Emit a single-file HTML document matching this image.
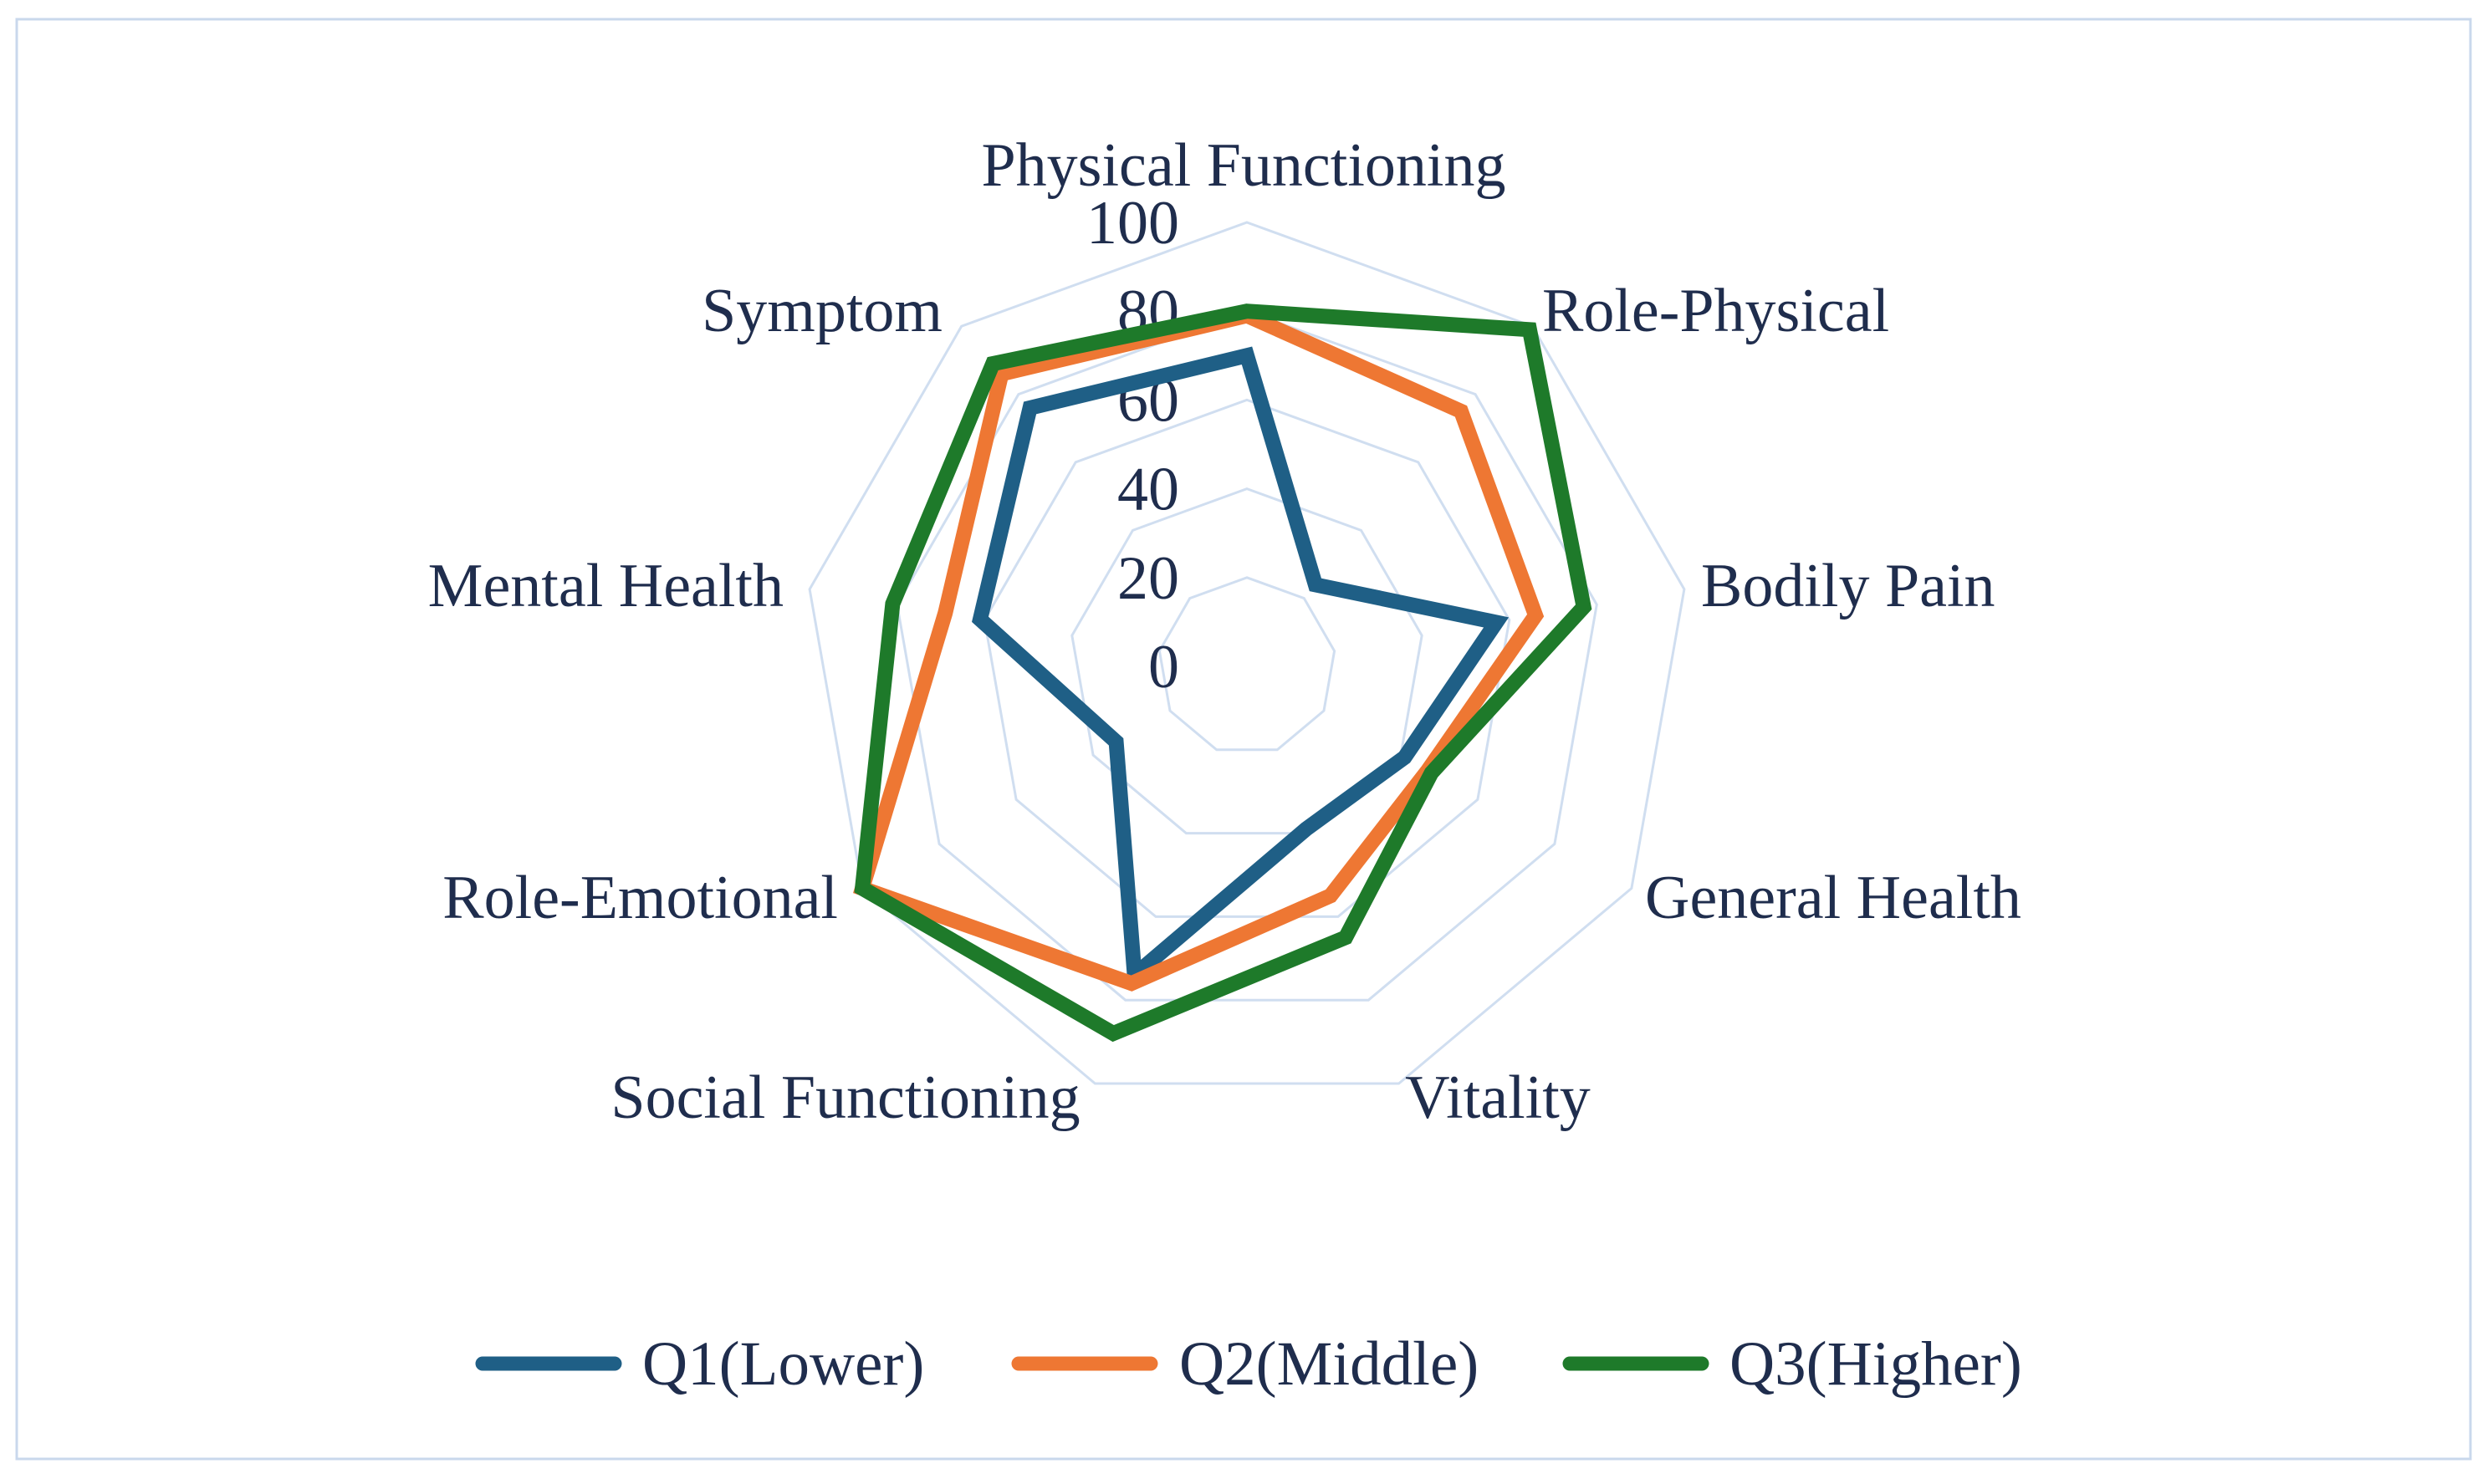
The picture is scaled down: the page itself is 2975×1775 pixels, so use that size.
<!DOCTYPE html>
<html><head><meta charset="utf-8">
<style>
html,body{margin:0;padding:0;background:#fff;}
svg{display:block;}
text{font-family:"Liberation Serif",serif;fill:#1f2d4d;}
</style></head>
<body>
<svg id="chart" width="2975" height="1775" viewBox="0 0 2975 1775" xmlns="http://www.w3.org/2000/svg">
<rect x="20" y="23" width="2934" height="1722" fill="#fff" stroke="#c9d8ec" stroke-width="3"/>
<g id="grid"></g>
<g id="ticks"></g>
<g id="labels"></g>
<g id="series"></g>
<g id="legend"></g>
</svg>
<script>
const categories = ["Physical Functioning","Role-Physical","Bodily Pain","General Health","Vitality","Social Functioning","Role-Emotional","Mental Health","Symptom"];
const q1Values = [70, 24, 57, 41, 39, 74, 34, 61, 76];
const q2Values = [79, 75, 66, 47, 55, 76, 100, 69, 86];
const q3Values = [80, 99, 77, 48, 65, 88, 100, 81, 89];
const tickValues = [0, 20, 40, 60, 80, 100];
const seriesNames = ["Q1(Lower)", "Q2(Middle)", "Q3(Higher)"];
const seriesColors = ["#1f5f86", "#ee7733", "#1e7a2a"];

const NS = "http://www.w3.org/2000/svg";
const cx = 1491, cy = 797, R = 531, maxV = 100;
function ang(i){ return i * 2 * Math.PI / categories.length; }
function px(i, v){ return cx + Math.sin(ang(i)) * R * v / maxV; }
function py(i, v){ return cy - Math.cos(ang(i)) * R * v / maxV; }
function mk(tag, attrs, parent){ const e = document.createElementNS(NS, tag); for (const k in attrs) e.setAttribute(k, attrs[k]); parent.appendChild(e); return e; }

const grid = document.getElementById('grid');
tickValues.forEach(t => {
  if (t === 0) return;
  const pts = categories.map((c, i) => px(i, t).toFixed(1) + ',' + py(i, t).toFixed(1)).join(' ');
  const p = mk('polygon', {points: pts, fill: 'none', stroke: '#d0def0', 'stroke-width': 3}, grid);
  
  
});

const ticks = document.getElementById('ticks');
tickValues.forEach(t => {
  const e = mk('text', {x: 1410, y: py(0, t) + 25, 'text-anchor': 'end', 'font-size': 74}, ticks);
  e.textContent = t;
  
  
});

const labels = document.getElementById('labels');
const labelPos = [[1487,222,'middle'],[1844,396,'start'],[2034,725,'start'],[1967,1098,'start'],[1791,1337,'middle'],[1011,1337,'middle'],[1002,1098,'end'],[937,725,'end'],[1127,396,'end']];
categories.forEach((c, i) => {
  const e = mk('text', {x: labelPos[i][0], y: labelPos[i][1], 'text-anchor': labelPos[i][2], 'font-size': 74}, labels);
  e.textContent = c;
  
  
});

const series = document.getElementById('series');
[q1Values, q2Values, q3Values].forEach((vals, s) => {
  const pts = vals.map((v, i) => px(i, v).toFixed(1) + ',' + py(i, v).toFixed(1)).join(' ');
  const p = mk('polygon', {points: pts, fill: 'none', stroke: seriesColors[s], 'stroke-width': 18, 'stroke-linejoin': 'miter'}, series);
  
  
});

const legend = document.getElementById('legend');
const legX = [569, 1210, 1869];
const legT = [768, 1410, 2068];
seriesNames.forEach((n, s) => {
  const g = mk('g', {}, legend);
  
  
  mk('line', {x1: legX[s] + 8, y1: 1631, x2: legX[s] + 166, y2: 1631, stroke: seriesColors[s], 'stroke-width': 17, 'stroke-linecap': 'round'}, g);
  const t = mk('text', {x: legT[s], y: 1656, 'font-size': 75}, g);
  t.textContent = n;
  
  
});
</script>
</body></html>
